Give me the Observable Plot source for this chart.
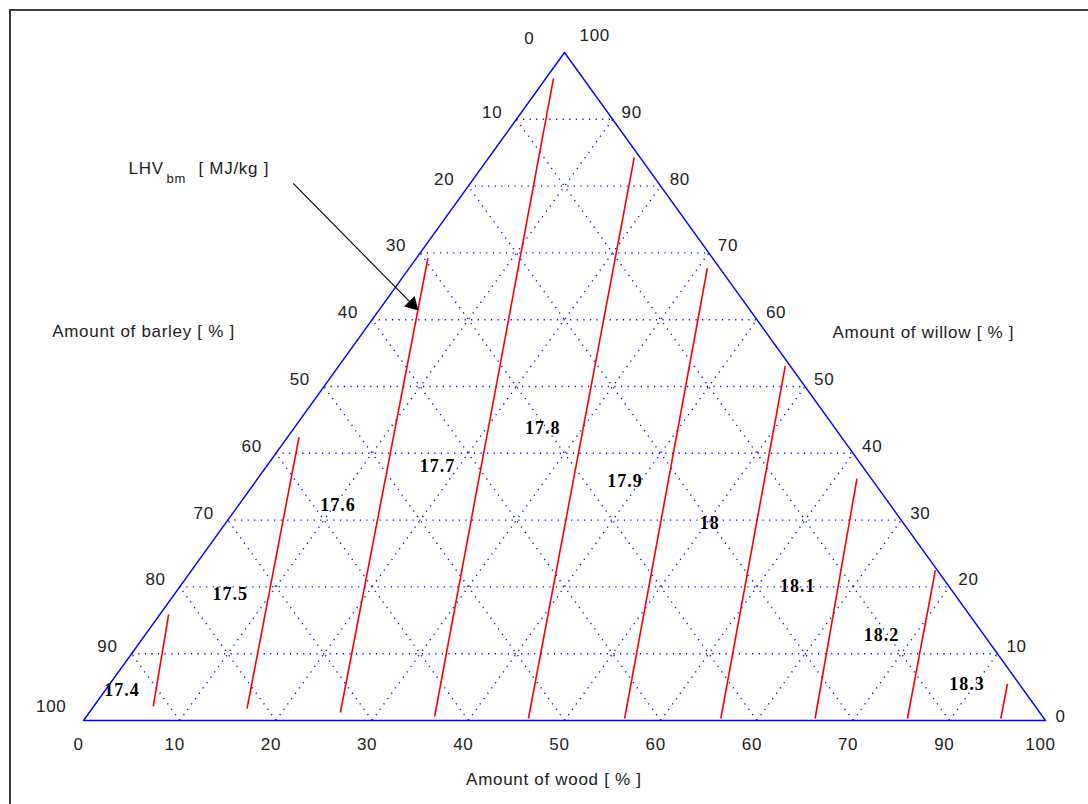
<!DOCTYPE html>
<html><head><meta charset="utf-8">
<script src="https://cdn.jsdelivr.net/npm/d3@7"></script>
<script src="https://cdn.jsdelivr.net/npm/@observablehq/plot@0.6"></script>
<style>
body{margin:0;background:#fff;}
#wrap{position:relative;width:1088px;height:804px;overflow:hidden;background:#fff;}
#wrap svg{position:absolute;left:0;top:0;}
#wrap svg text{letter-spacing:0.7px;}
#frame{position:absolute;left:9px;top:9px;width:1200px;height:1000px;border-left:2px solid #3c3c3c;border-top:2px solid #3c3c3c;pointer-events:none;}
</style></head><body><div id="wrap"></div>
<script>
// ---- data (percent) ----
const contourLevels   = ["17.4","17.5","17.6","17.7","17.8","17.9","18","18.1","18.2","18.3"];
const contourWoodLow  = [6.2, 16.1, 26.1, 36.2, 46.1, 56.1, 66.1, 75.9, 85.5, 95.2];
const contourWillowLow= [2.1, 1.8, 1.2, 0.6, 0.3, 0.3, 0.3, 0.3, 0.3, 0.3];
const contourWoodHigh = [0.9, 1.2, 1.2, 0.8, 15.1, 31.0, 46.4, 62.3, 77.3, 93.3];
const contourWillowHigh=[15.9, 42.4, 69.2, 96.1, 84.3, 67.7, 53.1, 36.2, 22.5, 5.5];
// label positions of each LHV level (wood %, willow %)
const labelWood   = [1.7, 5.8, 10.3, 17.8, 25.9, 38.4, 50.3, 64.2, 76.6, 89.1];
const labelWillow = [4.6, 18.9, 32.3, 38.0, 43.7, 35.8, 29.6, 20.1, 12.7, 5.5];
const gridSteps = [10,20,30,40,50,60,70,80,90];
const woodTickLabels   = ["0","10","20","30","40","50","60","60","70","90","100"];
const barleyTickLabels = ["0","10","20","30","40","50","60","70","80","90","100"];
const willowTickLabels = ["0","10","20","30","40","50","60","70","80","90","100"];
const axisTitles = ["Amount of barley [ % ]","Amount of willow [ % ]","Amount of wood [ % ]"];
const axisTitleX = [6.24, 87.3, 48.9];
const axisTitleY = [58.2, 58.1, -8.8];
const annotParts = ["LHV","bm","[ MJ/kg ]"];
const annotX = 4.68, annotY = 82.6;
const arrowFrom = [21.8, 80.4], arrowTo = [34.6, 61.7];

// ternary (wood, willow) -> cartesian
const tx = (wood, willow) => wood + willow / 2;
const ty = (wood, willow) => willow;

const grid = [];
for (const k of gridSteps) {
  grid.push({x1: tx(0,k), y1: ty(0,k), x2: tx(100-k,k), y2: ty(100-k,k)});      // constant willow
  grid.push({x1: tx(k,0), y1: 0, x2: tx(k,100-k), y2: ty(k,100-k)});            // constant wood
  grid.push({x1: tx(100-k,0), y1: 0, x2: tx(0,100-k), y2: ty(0,100-k)});        // constant barley
}
const tri = [[0,0],[100,0],[0,100],[0,0]].map(([w,v]) => ({x: tx(w,v), y: ty(w,v)}));
const contours = contourLevels.map((lv,i) => ({
  level: lv,
  x1: tx(contourWoodLow[i], contourWillowLow[i]), y1: ty(contourWoodLow[i], contourWillowLow[i]),
  x2: tx(contourWoodHigh[i], contourWillowHigh[i]), y2: ty(contourWoodHigh[i], contourWillowHigh[i])
}));
const levelLabels = contourLevels.map((lv,i) => ({text: lv, x: tx(labelWood[i], labelWillow[i]), y: ty(labelWood[i], labelWillow[i])}));

const bottomTicks = woodTickLabels.map((t,i) => ({text: t, x: tx(i*10,0), y: 0}));
const leftTicks = barleyTickLabels.map((t,i) => ({text: t, i, x: tx(0,100-i*10), y: ty(0,100-i*10)}));
const rightTicks = willowTickLabels.map((t,i) => ({text: t, i, x: tx(100-i*10,i*10), y: ty(100-i*10,i*10)}));

const sans = "Liberation Sans, Arial, sans-serif";
const fs = 17;

const plot = Plot.plot({
  width: 1088, height: 804, margin: 0,
  x: {domain: [0,100], range: [83,1045], axis: null},
  y: {domain: [0,100], range: [720,52], axis: null},
  style: {background: "transparent", fontFamily: sans, color: "#222"},
  marks: [
    Plot.link(grid, {x1:"x1", y1:"y1", x2:"x2", y2:"y2", stroke:"#0000ff", strokeWidth:1.4, strokeDasharray:"1.2,5.4", strokeLinecap:"butt"}),
    Plot.line(tri, {x:"x", y:"y", stroke:"#0000ff", strokeWidth:1.4}),
    Plot.link(contours, {x1:"x1", y1:"y1", x2:"x2", y2:"y2", stroke:"#ff0000", strokeWidth:1.6}),
    Plot.text(levelLabels, {x:"x", y:"y", text:"text", fontFamily:"Liberation Serif, Times New Roman, serif", fontWeight:"bold", fontSize:18, fill:"#000", stroke:"none"}),
    Plot.text(bottomTicks, {x:"x", y:"y", text:"text", dx:-5, dy:24, fontSize:fs, fill:"#222"}),
    Plot.text(leftTicks.filter(d => d.i>0 && d.i<10), {x:"x", y:"y", text:"text", textAnchor:"end", dx:-14, dy:-7, fontSize:fs, fill:"#222"}),
    Plot.text(leftTicks.filter(d => d.i===0), {x:"x", y:"y", text:"text", textAnchor:"end", dx:-30, dy:-14, fontSize:fs, fill:"#222"}),
    Plot.text(leftTicks.filter(d => d.i===10), {x:"x", y:"y", text:"text", textAnchor:"end", dx:-17, dy:-14, fontSize:fs, fill:"#222"}),
    Plot.text(rightTicks.filter(d => d.i>0 && d.i<10), {x:"x", y:"y", text:"text", textAnchor:"start", dx:9, dy:-7, fontSize:fs, fill:"#222"}),
    Plot.text(rightTicks.filter(d => d.i===10), {x:"x", y:"y", text:"text", textAnchor:"start", dx:15, dy:-17, fontSize:fs, fill:"#222"}),
    Plot.text(rightTicks.filter(d => d.i===0), {x:"x", y:"y", text:"text", textAnchor:"start", dx:10, dy:-4, fontSize:fs, fill:"#222"}),
    Plot.text(axisTitles, {x:(d,i)=>axisTitleX[i], y:(d,i)=>axisTitleY[i], text:d=>d, fontSize:fs, fill:"#222"}),
    Plot.text([annotParts[0]], {x:()=>annotX, y:()=>annotY, text:d=>d, textAnchor:"start", fontSize:fs, fill:"#222"}),
    Plot.text([annotParts[1]], {x:()=>annotX, y:()=>annotY, text:d=>d, textAnchor:"start", dx:38, dy:10, fontSize:13, fill:"#222"}),
    Plot.text([annotParts[2]], {x:()=>annotX, y:()=>annotY, text:d=>d, textAnchor:"start", dx:70, fontSize:fs, fill:"#222"}),
    Plot.link([{x1:arrowFrom[0], y1:arrowFrom[1], x2:arrowTo[0], y2:arrowTo[1]}], {x1:"x1", y1:"y1", x2:"x2", y2:"y2", stroke:"#000", strokeWidth:1.1}),
    Plot.dot([{x:arrowTo[0], y:arrowTo[1]}], {x:"x", y:"y", symbol:"triangle", r:5.5, rotate:135, fill:"#000", stroke:"none", dx:-4, dy:-4})
  ]
});
const wrap = document.getElementById("wrap");
wrap.appendChild(plot);
d3.select(plot).selectAll("g[font-family^='Liberation Serif'] text").style("letter-spacing","1px");
const fr = document.createElement("div"); fr.id = "frame"; wrap.appendChild(fr);
</script></body></html>
